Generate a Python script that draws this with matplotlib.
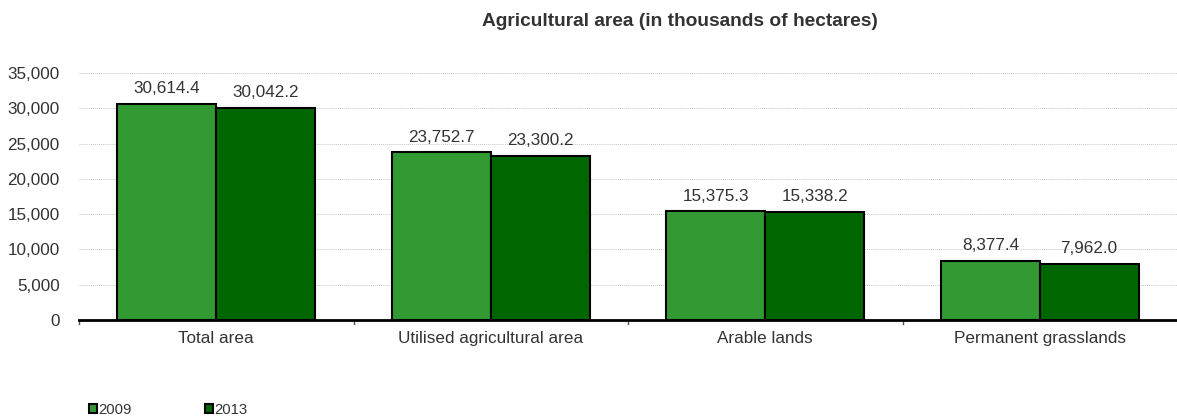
import matplotlib.pyplot as plt
import numpy as np

plt.rcParams['font.family'] = ['Liberation Sans', 'DejaVu Sans']

categories = ['Total area', 'Utilised agricultural area', 'Arable lands', 'Permanent grasslands']
years = ['2009', '2013']
values_2009 = [30614.4, 23752.7, 15375.3, 8377.4]
values_2013 = [30042.2, 23300.2, 15338.2, 7962.0]
colors = ['#339933', '#006600']

fig = plt.figure(figsize=(11.77, 4.18), dpi=100)
ax = fig.add_axes([79 / 1177, 98 / 418, 1 - 79 / 1177, 247 / 418])

x = np.arange(len(categories))
w = 0.36
for i, (vals, lab) in enumerate(zip([values_2009, values_2013], years)):
    pos = x + (i - 0.5) * w
    bars = ax.bar(pos, vals, w, color=colors[i], edgecolor='black', linewidth=1.5, label=lab, zorder=3)
    for b, v in zip(bars, vals):
        ax.text(b.get_x() + b.get_width() / 2, v + 1100, f'{v:,.1f}', ha='center', va='bottom',
                fontsize=12.3, color='#333333')

ax.set_xlim(-0.5, len(categories) - 0.5)
ax.set_ylim(0, 35000)
ax.set_yticks(range(0, 35001, 5000))
ax.set_yticklabels([f'{t:,}' for t in range(0, 35001, 5000)])
ax.yaxis.grid(True, linestyle=(0, (1, 1)), color='#c8c8c8', linewidth=0.7, zorder=0)

ax.set_xticks(x)
ax.set_xticklabels(categories)
ax.tick_params(axis='x', length=0, pad=8, labelsize=12.3, labelcolor='#333333')
ax.tick_params(axis='y', length=0, pad=14, labelsize=12.3, labelcolor='#333333')
for b in np.arange(0.5, len(categories) - 0.5, 1.0):
    ax.plot([b, b], [0, -500], color='#555555', lw=1, clip_on=False)
ax.plot([-0.5, -0.5], [0, -500], color='#555555', lw=1, clip_on=False)

for s in ['top', 'right', 'left']:
    ax.spines[s].set_visible(False)
ax.spines['bottom'].set_linewidth(2)
ax.spines['bottom'].set_zorder(4)

fig.text(680 / 1177, 0.948, 'Agricultural area (in thousands of hectares)', ha='center', va='center',
         fontsize=13.8, fontweight='bold', color='#333333')

leg = fig.legend(loc='lower left', bbox_to_anchor=(0.064, -0.03), ncol=2, frameon=False,
                 fontsize=10.7, handlelength=0.55, handleheight=0.55, handletextpad=0.1,
                 columnspacing=4.9, labelcolor='#333333')

fig.savefig('out.png', dpi=100)
